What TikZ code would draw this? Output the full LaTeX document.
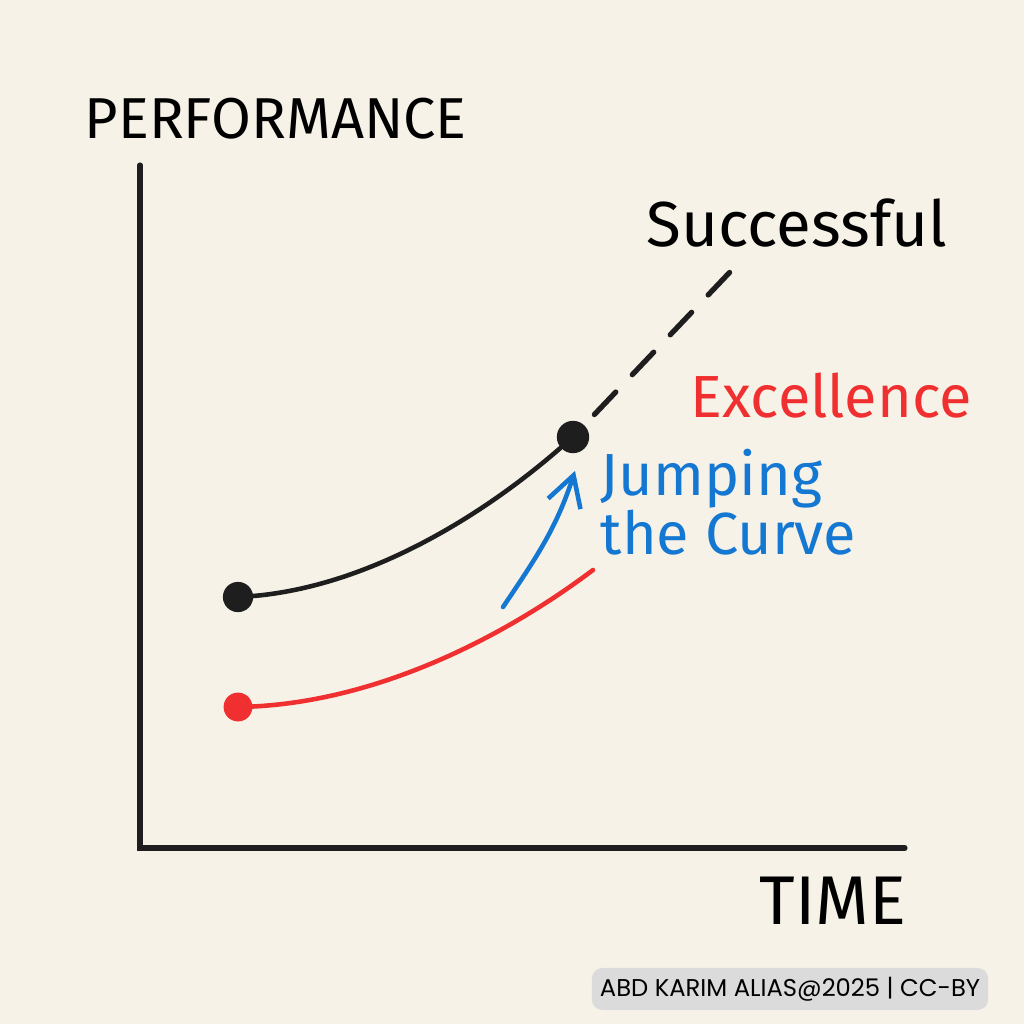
\documentclass[tikz,border=0pt]{standalone}
\usepackage{fontspec}
\setmainfont{Fira Sans}
\newfontfamily\creditfont{Poppins}
\usepackage{xcolor}
\usetikzlibrary{arrows.meta, positioning, calc}

\definecolor{paper}{HTML}{F7F2E8}
\definecolor{ink}{HTML}{1E1E1E}
\definecolor{exred}{HTML}{F03030}
\definecolor{jumpblue}{HTML}{1478D2}

\begin{document}
\begin{tikzpicture}[
  x=0.01cm, y=-0.01cm,
  axis/.style={draw=ink, line width=1.45pt, line cap=round},
  crv/.style={line width=1.3pt, line cap=round},
  dot/.style={circle, inner sep=0pt, minimum size=#1},
  lbl/.style={inner sep=0pt, anchor=base west},
]

% page and background
\useasboundingbox (0,0) rectangle (1024,1024);
\fill[paper] (0,0) rectangle (1024,1024);

% axes
\coordinate (ytop)   at (140,165);
\coordinate (origin) at (140,848);
\coordinate (xend)   at (905,848);
\draw[axis] (ytop) -- (origin) -- (xend);

\node[lbl, font=\fontsize{16.4}{18}\selectfont] (perf) at (84,138) {PERFORMANCE};
\node[lbl, font=\fontsize{19.6}{22}\selectfont] (time) at (759,924) {TIME};

% current curve
\node[dot=8.6pt, fill=ink]    (start) at (238,597) {};
\node[dot=9.2pt, fill=ink]    (now)   at (573,437) {};
\coordinate (succ) at (730,272);
\draw[crv, ink] (start.center) .. controls (360,592) and (480,518) .. (now);
\draw[crv, ink, line width=1.5pt, dash pattern=on 0.31cm off 0.24cm]
  ($(now)!0.31cm!(succ)$) -- (succ);

% new curve
\node[dot=8.2pt, fill=exred]  (red0)  at (238,707) {};
\coordinate (redend) at (593,570);
\draw[crv, exred] (red0.center) .. controls (370,705) and (500,640) .. (redend);

% jump
\coordinate (jumpfrom) at (503,607);
\draw[crv, jumpblue, -{Straight Barb[length=3mm, width=3.4mm]}]
  (jumpfrom) to[out=56, in=-108] ($(now.south)+(2,17)$);

% labels
\node[lbl, font=\fontsize{18.1}{20}\selectfont] (successful) at (646,246) {Successful};
\node[lbl, text=exred, font=\fontsize{16.9}{20}\selectfont] (excellence) at (690,417) {Excellence};
\node[inner sep=0pt, text=jumpblue, anchor=north west, align=left,
      font=\fontsize{16.9}{17}\selectfont] (jumping) at (600,448)
  {Jumping\\the Curve};

% credit
\node[fill=black!14, rounded corners=3pt, inner sep=0pt,
      minimum width=3.96cm, minimum height=0.42cm,
      font=\creditfont\fontsize{6.9}{8}\selectfont] (credit) at (790,989)
  {ABD KARIM ALIAS@2025 | CC-BY};

\end{tikzpicture}
\end{document}
